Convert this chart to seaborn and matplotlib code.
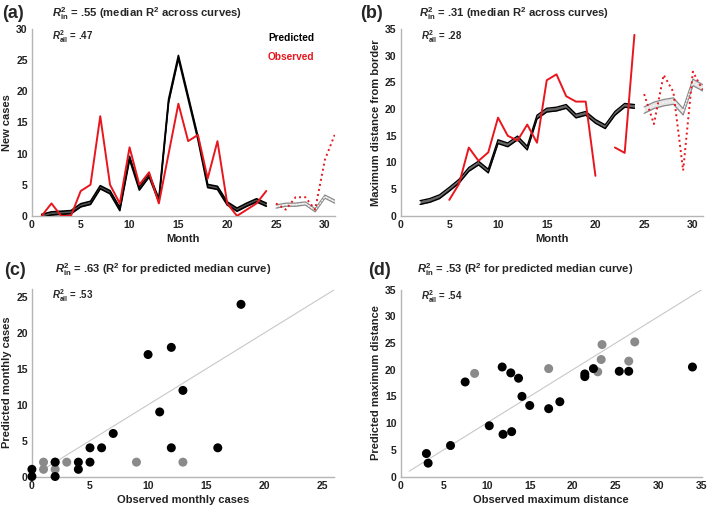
import numpy as np
import pandas as pd
import seaborn as sns
import matplotlib.pyplot as plt

# panel (a) new cases
months_in = list(range(1, 25))
cases_obs = [0, 2, 0, 0, 4, 5, 16, 5, 2, 11, 5, 7, 2, 10, 18, 12, 13, 6, 12, 2, 0, 1, 2, 4]
cases_pred = [0, 0.4, 0.5, 0.6, 1.7, 2.1, 4.6, 3.8, 1.1, 9.3, 4.4, 6.5, 2.5, 18.5, 25.5, 19, 12.5, 4.8, 4.5, 2, 1, 1.8, 2.5, 1.8]
months_out = list(range(25, 32))
cases_obs_out = [2, 1, 3, 3, 1, 9, 13]
cases_pred_out = [1.5, 1.8, 1.8, 2.0, 0.9, 3.1, 2.3]

# panel (b) max distance from border
months_b = list(range(2, 25))
dist_pred = [2.5, 2.9, 3.6, 5.0, 6.5, 8.7, 9.9, 8.4, 13.9, 13.3, 14.6, 12.7, 18.5, 19.8, 20.0, 20.5,
             18.7, 19.2, 17.7, 16.7, 19.2, 20.7, 20.5]
months_obs_b1 = list(range(5, 21))
dist_obs1 = [3, 6, 12.8, 10.3, 11.9, 18.4, 15, 14.1, 17.1, 13.7, 25.4, 26.5, 22.4, 21.4, 21.4, 7.5]
months_obs_b2 = [22, 23, 24]
dist_obs2 = [12.8, 11.8, 33.9]
dist_obs_out = [22.8, 17.2, 26.4, 23.2, 8.5, 27, 23.6]
dist_pred_out = [19.8, 20.7, 21.2, 21.5, 19.5, 25.0, 24.0]

# panel (c) scatter
c_obs_in = [0, 0, 2, 2, 4, 4, 5, 5, 6, 7, 10, 11, 12, 12, 13, 16, 18]
c_pred_in = [0, 1, 0, 2, 1, 2, 2, 4, 4, 6, 17, 9, 18, 4, 12, 4, 24]
c_obs_out = [1, 1, 2, 2, 3, 9, 13]
c_pred_out = [1, 2, 1, 2, 2, 2, 2]

# panel (d) scatter
d_obs_in = [3, 3.2, 5.8, 7.5, 10.3, 11.8, 11.9, 12.8, 12.9, 13.7, 14.1, 15, 17.2, 18.5, 21.4, 21.4,
            22.4, 25.4, 26.5, 33.9]
d_pred_in = [4.3, 2.5, 5.8, 17.7, 9.5, 20.5, 7.9, 19.4, 8.4, 18.4, 15, 13.3, 12.7, 14, 18.7, 19.2,
             20.2, 19.7, 19.7, 20.5]
d_obs_out = [8.6, 17.2, 22.9, 23.3, 23.4, 26.5, 27.2]
d_pred_out = [19.3, 20.2, 19.6, 21.9, 24.7, 21.6, 25.2]

sns.set_style("white")
plt.rcParams['font.family'] = ['Liberation Sans', 'DejaVu Sans']
plt.rcParams['font.weight'] = 'bold'
plt.rcParams['mathtext.fontset'] = 'custom'
plt.rcParams['mathtext.rm'] = 'Liberation Sans:bold'
plt.rcParams['mathtext.it'] = 'Liberation Sans:bold:italic'
plt.rcParams['mathtext.bf'] = 'Liberation Sans:bold'

RED = "#e8161d"
GRAY = "#8a8a8a"
SPINE = "#b5b5b5"

fig = plt.figure(figsize=(7.09, 5.08), dpi=100)
axA = fig.add_axes([0.045, 0.575, 0.427, 0.368])
axB = fig.add_axes([0.565, 0.575, 0.426, 0.368])
axC = fig.add_axes([0.045, 0.062, 0.426, 0.370])
axD = fig.add_axes([0.565, 0.062, 0.425, 0.368])


def style(ax, xmax, ymax, xlabel, ylabel):
    ax.set_xlim(0, xmax)
    ax.set_ylim(0, ymax)
    for s in ['top', 'right']:
        ax.spines[s].set_visible(False)
    for s in ['left', 'bottom']:
        ax.spines[s].set_color(SPINE)
        ax.spines[s].set_linewidth(1.0)
    ax.tick_params(direction='in', length=3, color=SPINE, labelsize=7.5, labelcolor='#222222', pad=3)
    for lab in ax.get_xticklabels() + ax.get_yticklabels():
        lab.set_fontweight('bold')
    ax.set_xlabel(xlabel, fontsize=8, fontweight='bold', color='#222222', labelpad=3)
    ax.set_ylabel(ylabel, fontsize=8, fontweight='bold', color='#222222', labelpad=3)


def band(ax, x, y, half, edge, face, lw, center_dots=False):
    y = np.array(y)
    ax.fill_between(x, y - half, y + half, color=face, lw=0, zorder=2)
    sns.lineplot(x=x, y=y - half, ax=ax, color=edge, lw=lw, zorder=3)
    sns.lineplot(x=x, y=y + half, ax=ax, color=edge, lw=lw, zorder=3)
    if center_dots:
        sns.lineplot(x=x, y=y, ax=ax, color='white', lw=0.9, linestyle=':', zorder=4)


# (a)
band(axA, months_in, cases_pred, 0.25, 'black', '#555555', 1.2)
sns.lineplot(x=months_in, y=cases_obs, ax=axA, color=RED, lw=1.4, zorder=5)
band(axA, months_out, cases_pred_out, 0.25, GRAY, '#e4e4e4', 0.9, center_dots=True)
sns.lineplot(x=months_out, y=cases_obs_out, ax=axA, color=RED, lw=1.4, linestyle=':', zorder=5)
axA.set_xticks(range(0, 31, 5))
axA.set_yticks(range(0, 31, 5))
style(axA, 31, 30, 'Month', 'New cases')
axA.text(0.78, 0.95, 'Predicted', transform=axA.transAxes, fontsize=7.3, fontweight='bold', color='black', va='center')
axA.text(0.78, 0.85, 'Observed', transform=axA.transAxes, fontsize=7.3, fontweight='bold', color=RED, va='center')

# (b)
band(axB, months_b, dist_pred, 0.35, 'black', '#666666', 1.0)
sns.lineplot(x=months_obs_b1, y=dist_obs1, ax=axB, color=RED, lw=1.4, zorder=5)
sns.lineplot(x=months_obs_b2, y=dist_obs2, ax=axB, color=RED, lw=1.4, zorder=5)
band(axB, months_out, dist_pred_out, 0.6, GRAY, '#e4e4e4', 0.9, center_dots=True)
sns.lineplot(x=months_out, y=dist_obs_out, ax=axB, color=RED, lw=1.4, linestyle=':', zorder=5)
axB.set_xticks(range(0, 31, 5))
axB.set_yticks(range(0, 36, 5))
style(axB, 31, 35, 'Month', 'Maximum distance from border')

# (c)
axC.plot([1, 26], [1, 26], color='#c8c8c8', lw=0.8, zorder=1)
sns.scatterplot(x=c_obs_out, y=c_pred_out, ax=axC, color=GRAY, s=42, edgecolor='none', zorder=3, clip_on=False)
sns.scatterplot(x=c_obs_in, y=c_pred_in, ax=axC, color='black', s=42, edgecolor='none', zorder=4, clip_on=False)
axC.errorbar([18], [24], yerr=[0.5], color='black', lw=1, capsize=0, zorder=4)
axC.set_xticks(range(0, 26, 5))
axC.set_yticks(range(0, 26, 5))
style(axC, 26, 26.2, 'Observed monthly cases', 'Predicted monthly cases')

# (d)
axD.plot([1, 35], [1, 35], color='#c8c8c8', lw=0.8, zorder=1)
sns.scatterplot(x=d_obs_out, y=d_pred_out, ax=axD, color=GRAY, s=42, edgecolor='none', zorder=3)
sns.scatterplot(x=d_obs_in, y=d_pred_in, ax=axD, color='black', s=42, edgecolor='none', zorder=4)
axD.set_xticks(range(0, 36, 5))
axD.set_yticks(range(0, 36, 5))
style(axD, 35, 35, 'Observed maximum distance', 'Predicted maximum distance')

# panel letters and R2 texts
letters = [('(a)', 0.003, 0.973), ('(b)', 0.508, 0.973), ('(c)', 0.006, 0.468), ('(d)', 0.519, 0.468)]
for lab, x, y in letters:
    fig.text(x, y, lab, fontsize=13, fontweight='bold', va='center')

titles = [(r'$R^{2}_{\mathrm{in}}$ = .55 (median R$^{2}$ across curves)', 0.073, 0.973),
          (r'$R^{2}_{\mathrm{in}}$ = .31 (median R$^{2}$ across curves)', 0.591, 0.973),
          (r'$R^{2}_{\mathrm{in}}$ = .63 (R$^{2}$ for predicted median curve)', 0.078, 0.470),
          (r'$R^{2}_{\mathrm{in}}$ = .53 (R$^{2}$ for predicted median curve)', 0.588, 0.470)]
for t, x, y in titles:
    fig.text(x, y, t, fontsize=8.1, fontweight='bold', va='center')

alls = [(r'$R^{2}_{\mathrm{all}}$ = .47', axA), (r'$R^{2}_{\mathrm{all}}$ = .28', axB),
        (r'$R^{2}_{\mathrm{all}}$ = .53', axC), (r'$R^{2}_{\mathrm{all}}$ = .54', axD)]
for t, ax in alls:
    ax.text(0.068, 0.96, t, transform=ax.transAxes, fontsize=7, fontweight='bold', va='center')

fig.savefig('out.png', dpi=100)
